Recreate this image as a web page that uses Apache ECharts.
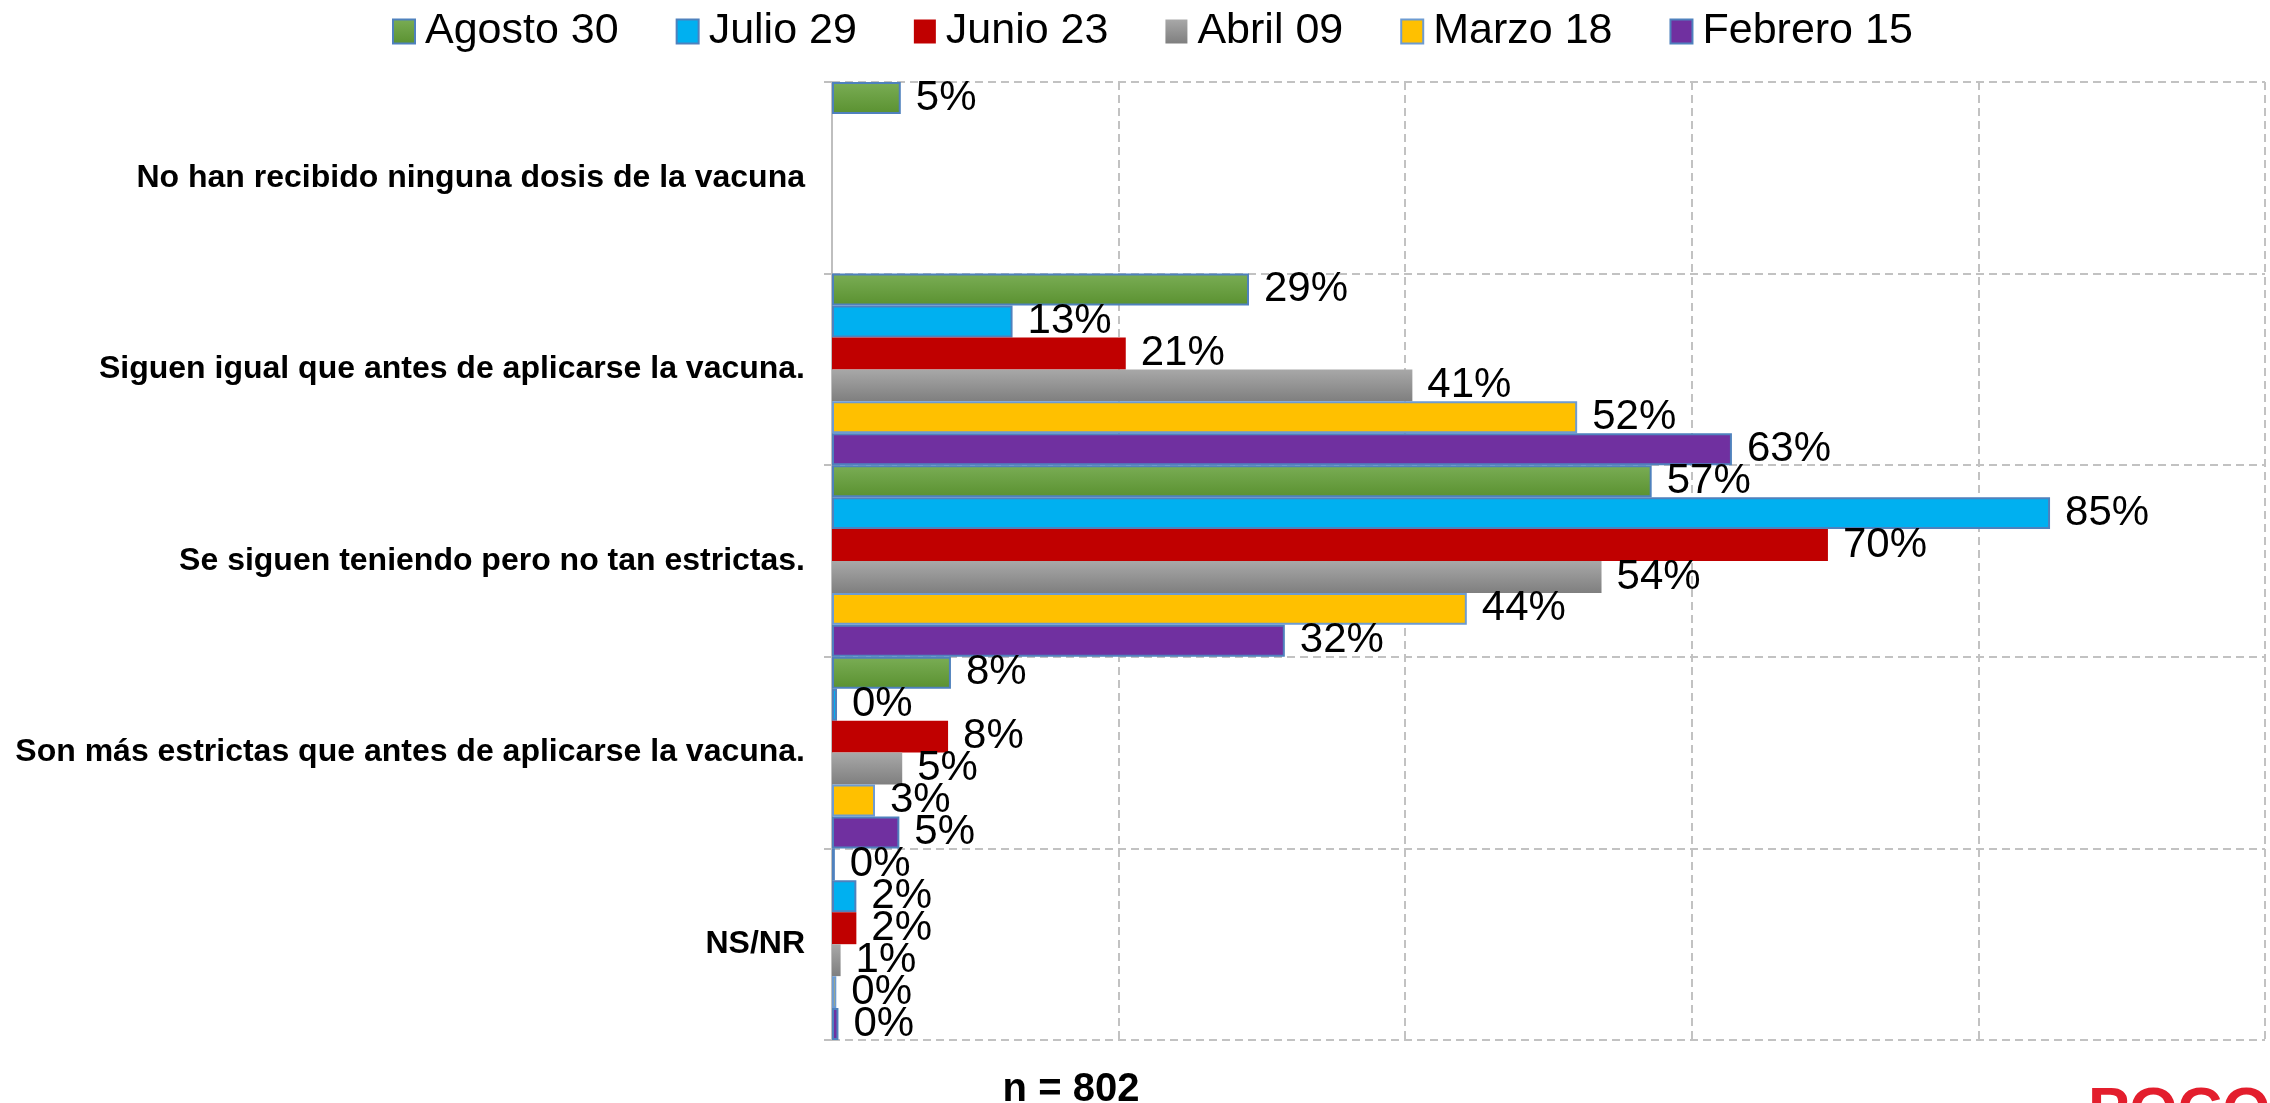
<!DOCTYPE html>
<html>
<head>
<meta charset="utf-8">
<script src="https://cdn.jsdelivr.net/npm/echarts@6/dist/echarts.min.js"></script>
<style>
html,body{margin:0;padding:0;background:#fff;}
#chart{width:2270px;height:1103px;}
</style>
</head>
<body>
<div id="chart"></div>
<script>
const categories = [
  'No han recibido ninguna dosis de la vacuna',
  'Siguen igual que antes de aplicarse la vacuna.',
  'Se siguen teniendo pero no tan estrictas.',
  'Son más estrictas que antes de aplicarse la vacuna.',
  'NS/NR'
];
const seriesNames = ['Agosto 30', 'Julio 29', 'Junio 23', 'Abril 09', 'Marzo 18', 'Febrero 15'];
const agosto30  = [4.8, 29.1, 57.2, 8.3, 0.2];
const julio29   = [null, 12.6, 85.0, 0.35, 1.7];
const junio23   = [null, 20.5, 69.5, 8.1, 1.7];
const abril09   = [null, 40.5, 53.7, 4.9, 0.6];
const marzo18   = [null, 52.0, 44.3, 3.0, 0.3];
const febrero15 = [null, 62.8, 31.6, 4.7, 0.45];
const xTicks = [0, 20, 40, 60, 80, 100];

const FONT = "'Liberation Sans', Arial, Helvetica, sans-serif";
const seriesData = [agosto30, julio29, junio23, abril09, marzo18, febrero15];
const grad = (a, b) => ({type: 'linear', x: 0, y: 0, x2: 0, y2: 1, colorStops: [{offset: 0, color: a}, {offset: 1, color: b}]});
const styles = [
  {color: grad('#7aad55', '#5a9130'), borderColor: '#4f81bd', borderWidth: 2},
  {color: '#00b0f0', borderColor: '#4f81bd', borderWidth: 2},
  {color: '#c00000', borderWidth: 0},
  {color: grad('#a8a8a8', '#7f7f7f'), borderWidth: 0},
  {color: '#ffc000', borderColor: '#6d9bd1', borderWidth: 2},
  {color: '#7030a0', borderColor: '#4f81bd', borderWidth: 2}
];

const chart = echarts.init(document.getElementById('chart'), null, {renderer: 'canvas'});
const dashed = {color: '#c2c2c2', width: 2, type: [8, 5]};

chart.setOption({
  animation: false,
  textStyle: {fontFamily: FONT},
  legend: {
    data: seriesNames,
    left: 387,
    top: 5,
    icon: 'rect',
    itemWidth: 22,
    itemHeight: 24,
    itemGap: 57,
    textStyle: {fontSize: 43, color: '#000', fontFamily: FONT, padding: [0, 0, 0, 5]}
  },
  grid: {left: 832, right: 5, top: 82, bottom: 63, containLabel: false},
  xAxis: {
    type: 'value',
    min: xTicks[0],
    max: xTicks[xTicks.length - 1],
    interval: xTicks[1] - xTicks[0],
    axisLabel: {show: false},
    axisLine: {show: false},
    axisTick: {show: false},
    splitLine: {show: true, lineStyle: dashed}
  },
  yAxis: {
    type: 'category',
    inverse: true,
    data: categories,
    axisLine: {show: true, lineStyle: {color: '#bfbfbf', width: 2}},
    axisTick: {show: true, length: 8, lineStyle: {color: '#bfbfbf', width: 2}},
    splitLine: {show: true, lineStyle: dashed},
    axisLabel: {fontSize: 32, fontWeight: 'bold', color: '#000', fontFamily: FONT, margin: 27}
  },
  series: seriesNames.map((name, i) => ({
    name: name,
    type: 'bar',
    data: seriesData[i],
    barGap: '0%',
    barCategoryGap: '0%',
    itemStyle: styles[i],
    label: {
      show: true,
      position: 'right',
      distance: 15,
      fontSize: 42,
      color: '#000',
      fontFamily: FONT,
      formatter: p => (p.value == null ? '' : Math.round(p.value) + '%')
    }
  })),
  graphic: [
    {type: 'text', x: 1071, y: 1090, style: {text: 'n = 802', font: "bold 40px " + FONT, fill: '#000', textAlign: 'center', textVerticalAlign: 'middle'}},
    {type: 'text', x: 2088, y: 1082, style: {text: 'POCO', font: "bold 62px " + FONT, fill: '#e31e2d', textAlign: 'left', textVerticalAlign: 'top'}}
  ]
});
</script>
</body>
</html>
